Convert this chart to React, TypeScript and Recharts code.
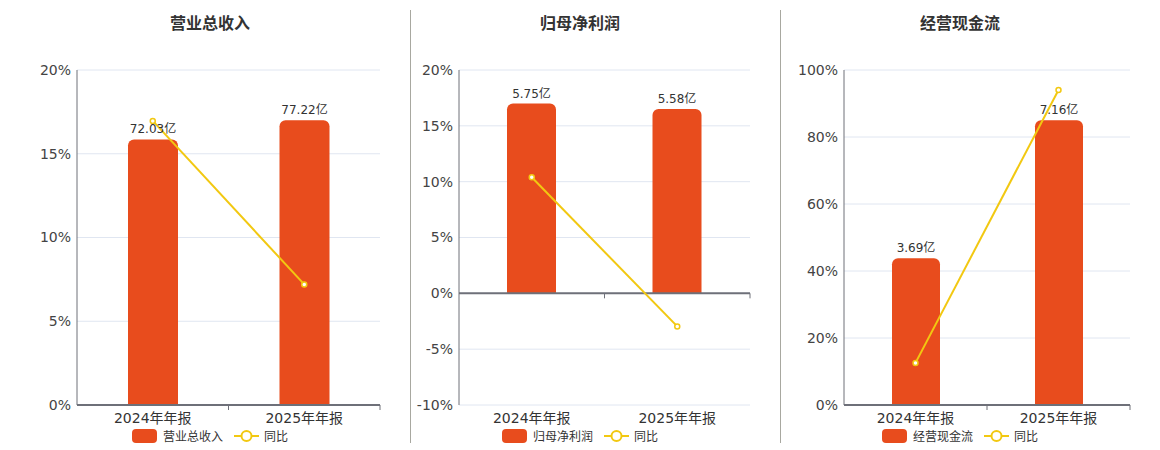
import React from 'react'
import {
  ComposedChart, Bar, Line, XAxis, YAxis, CartesianGrid, LabelList, ReferenceLine,
} from 'recharts'

const periods = ['2024年年报', '2025年年报']

const revenue = [72.03, 77.22]
const revenueYoy = [16.96, 7.2]

const profit = [5.75, 5.58]
const profitYoy = [10.39, -2.96]

const cashflow = [3.69, 7.16]
const cashflowYoy = [12.57, 94.04]

const revenueTicks = [0, 5, 10, 15, 20]
const profitTicks = [-10, -5, 0, 5, 10, 15, 20]
const cashflowTicks = [0, 20, 40, 60, 80, 100]

const FONT = '"DejaVu Sans", "Noto Sans CJK SC", sans-serif'
const BAR = '#E84C1D'
const LINE = '#F2C811'
const AXIS = '#6E7079'

// x-axis line drawn on the zero level, with ticks at category boundaries
const ZeroAxis = (props: any) => {
  const { x1, x2, y1 } = props
  const n = periods.length
  const marks = []
  for (let i = 1; i <= n; i++) {
    const x = x1 + ((x2 - x1) * i) / n
    marks.push(<line key={i} x1={x} x2={x} y1={y1} y2={y1 + 5} stroke={AXIS} strokeWidth={1} />)
  }
  return (
    <g>
      <line x1={x1} x2={x2} y1={y1} y2={y1} stroke={AXIS} strokeWidth={2} />
      {marks}
    </g>
  )
}

interface PanelProps {
  title: string
  name: string
  amounts: number[]
  yoy: number[]
  ticks: number[]
  plotLeft: number
  plotRight: number
  center: number
  barSize: number
}

function Panel({ title, name, amounts, yoy, ticks, plotLeft, plotRight, center, barSize }: PanelProps) {
  const data = periods.map((p, i) => ({ period: p, amount: amounts[i], yoy: yoy[i] }))
  const lo = ticks[0]
  const hi = ticks[ticks.length - 1]
  const top = Math.max(...amounts) / 0.85
  const amtDomain = [top * (lo / hi), top]
  const yWidth = 60
  const chartLeft = plotLeft - yWidth
  const width = plotRight - chartLeft + 4

  return (
    <>
      <div style={{
        position: 'absolute', left: center - 100, top: 10, width: 200, textAlign: 'center',
        fontSize: 16, fontWeight: 'bold', color: '#333', fontFamily: FONT,
      }}>{title}</div>
      <div style={{ position: 'absolute', left: chartLeft, top: 0 }}>
        <ComposedChart
          width={width}
          height={450}
          data={data}
          margin={{ top: 70, right: 4, left: 0, bottom: 15 }}
        >
          <CartesianGrid yAxisId="pct" horizontal vertical={false} stroke="#E0E6F1" />
          <XAxis
            dataKey="period"
            axisLine={false}
            tickLine={false}
            height={30}
            tick={{ fontSize: 14, fill: '#333', fontFamily: FONT }}
            tickMargin={2}
          />
          <YAxis
            yAxisId="pct"
            orientation="left"
            domain={[lo, hi]}
            ticks={ticks}
            type="number"
            width={yWidth}
            tickFormatter={(v: number) => `${v}%`}
            axisLine={{ stroke: AXIS }}
            tickLine={false}
            tickSize={0}
            tickMargin={6}
            tick={{ fontSize: 14, fill: '#444', fontFamily: FONT }}
          />
          <YAxis yAxisId="amt" orientation="right" width={0} hide domain={amtDomain} type="number" allowDataOverflow />
          <Bar
            yAxisId="amt"
            dataKey="amount"
            name={name}
            fill={BAR}
            barSize={barSize}
            radius={[6, 6, 0, 0]}
            isAnimationActive={false}
          >
            <LabelList
              dataKey="amount"
              position="top"
              offset={6}
              formatter={(v: any) => `${v}亿`}
              style={{ fontSize: 12, fill: '#333', fontFamily: FONT }}
            />
          </Bar>
          <ReferenceLine yAxisId="pct" y={0} shape={ZeroAxis} />
          <Line
            yAxisId="pct"
            dataKey="yoy"
            name="同比"
            stroke={LINE}
            strokeWidth={2}
            dot={{ r: 2.5, fill: '#fff', stroke: LINE, strokeWidth: 1.5 }}
            isAnimationActive={false}
          />
        </ComposedChart>
      </div>
      <div style={{
        position: 'absolute', left: center - 150, top: 427, width: 300,
        display: 'flex', justifyContent: 'center', alignItems: 'center',
        fontSize: 12, color: '#333', fontFamily: FONT,
      }}>
        <span style={{ display: 'inline-block', width: 25, height: 14, borderRadius: 4, background: BAR, marginRight: 6 }} />
        <span style={{ marginRight: 11 }}>{name}</span>
        <svg width={25} height={14} style={{ marginRight: 5 }}>
          <line x1={0} x2={25} y1={7} y2={7} stroke={LINE} strokeWidth={2} />
          <circle cx={12.5} cy={7} r={5} fill="#fff" stroke={LINE} strokeWidth={2} />
        </svg>
        <span>同比</span>
      </div>
    </>
  )
}

export default function App() {
  return (
    <div style={{ position: 'absolute', left: 0, top: 0, width: 1160, height: 450, background: '#fff', fontFamily: FONT }}>
      <div style={{ position: 'absolute', left: 410, top: 10, width: 1, height: 433, background: '#A8A8A0' }} />
      <div style={{ position: 'absolute', left: 780, top: 10, width: 1, height: 433, background: '#A8A8A0' }} />
      <Panel title="营业总收入" name="营业总收入" amounts={revenue} yoy={revenueYoy} ticks={revenueTicks}
        plotLeft={77} plotRight={380} center={210} barSize={50} />
      <Panel title="归母净利润" name="归母净利润" amounts={profit} yoy={profitYoy} ticks={profitTicks}
        plotLeft={459} plotRight={750} center={580} barSize={49} />
      <Panel title="经营现金流" name="经营现金流" amounts={cashflow} yoy={cashflowYoy} ticks={cashflowTicks}
        plotLeft={844} plotRight={1130} center={960} barSize={48} />
    </div>
  )
}
